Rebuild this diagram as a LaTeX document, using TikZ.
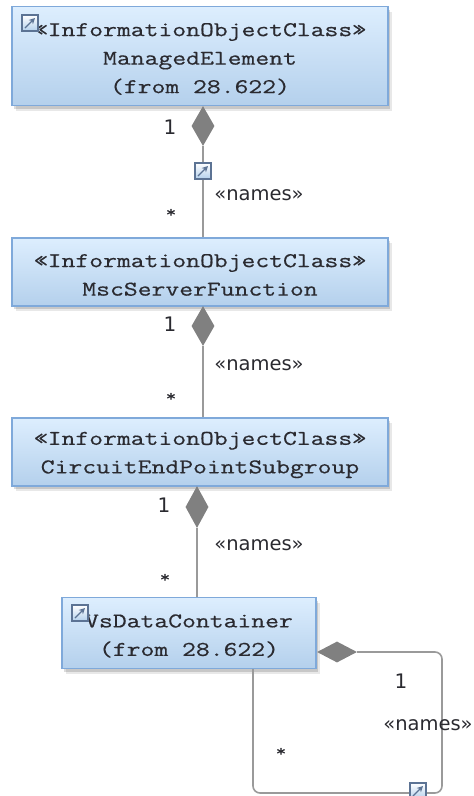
\documentclass[tikz,border=0pt]{standalone}
\usepackage{fontspec}
\setsansfont{DejaVu Sans}
\newfontfamily\classfont{Latin Modern Mono}[FakeStretch=1.28,FakeBold=0.5]
\newcommand{\topfix}{\rule{0pt}{19pt}}
\usetikzlibrary{shapes.geometric,shadows,arrows.meta}
\definecolor{boxtop}{HTML}{DDEEFE}
\definecolor{boxbot}{HTML}{B4D0EC}
\definecolor{boxline}{HTML}{7FA9DA}
\definecolor{linkgray}{HTML}{9A9A9A}
\definecolor{diagray}{HTML}{808080}
\definecolor{txtdark}{HTML}{2A2A30}
\definecolor{iconline}{HTML}{5C7394}
\tikzset{
  classbox/.style={draw=boxline,line width=1.3pt,top color=boxtop,bottom color=boxbot,
    anchor=center,inner sep=0pt,align=center,text=txtdark,
    font=\classfont\fontsize{21}{28.5}\selectfont,
    general shadow={shadow xshift=4pt,shadow yshift=-5pt,opacity=.09,fill=black},
    general shadow={shadow xshift=2pt,shadow yshift=-3pt,opacity=.14,fill=black}},
  linkicon/.style={draw=iconline,line width=1.2pt,minimum width=16pt,minimum height=16pt,inner sep=0pt,
    top color=white,bottom color=boxbot,
    path picture={\draw[iconline,line width=1.3pt,-{Stealth[length=6pt,width=6pt]}]
      ([shift={(3pt,3pt)}]path picture bounding box.south west)--([shift={(-3pt,-3pt)}]path picture bounding box.north east);}},
  compdia/.style={diamond,draw=none,fill=diagray,inner sep=0pt,aspect=1},
  link/.style={draw=linkgray,line width=1.6pt},
  mult/.style={text=txtdark,inner sep=0pt,font=\sffamily\fontsize{20}{20}\selectfont},
  star/.style={text=txtdark,inner sep=0pt,font=\classfont\fontsize{16}{16}\selectfont},
  stereo/.style={text=txtdark,inner sep=0pt,font=\sffamily\fontsize{19.5}{19.5}\selectfont}
}
\begin{document}
\begin{tikzpicture}[x=1pt,y=-1pt]
\useasboundingbox (0,0) rectangle (474,796);
\node[classbox,minimum width=376pt,minimum height=99pt] (b1) at (200,56) {\topfix«InformationObjectClass»\\ManagedElement\\(from 28.622)};
\node[classbox,minimum width=376pt,minimum height=68pt] (b2) at (200,272) {\topfix«InformationObjectClass»\\MscServerFunction};
\node[classbox,minimum width=376pt,minimum height=68pt] (b3) at (200,452) {\topfix«InformationObjectClass»\\CircuitEndPointSubgroup};
\node[classbox,minimum width=254pt,minimum height=71pt] (b4) at (189,633) {\topfix VsDataContainer\\(from 28.622)};
% diamonds
\node[compdia,minimum width=23pt,minimum height=40pt] (d1) at (203,126) {};
\node[compdia,minimum width=23pt,minimum height=40pt] (d2) at (203,326) {};
\node[compdia,minimum width=23pt,minimum height=42pt] (d3) at (197,507) {};
\node[compdia,minimum width=40pt,minimum height=21pt] (d4) at (337,652) {};
% connectors
\draw[link] (d1.south) -- (d1.south |- b2.north);
\draw[link] (d2.south) -- (d2.south |- b3.north);
\draw[link] (d3.south) -- (d3.south |- b4.north);
\coordinate (c1) at (442,652);
\coordinate (c2) at (442,793);
\coordinate (c3) at (253,793);
\draw[link,rounded corners=7pt] (d4.east) -- (c1) -- (c2) -- (c3) -- (c3 |- b4.south);
% icons
\node[linkicon] (i1) at (30,23) {};
\node[linkicon] (i2) at (203,171) {};
\node[linkicon] (i3) at (80,613) {};
\node[linkicon] (i4) at (418,791) {};
% labels
\node[mult] (m1) at (170,127) {1};
\node[star] (s1) at (171,213) {*};
\node[stereo] (n1) at (259,195) {«names»};
\node[mult] (m2) at (170,324) {1};
\node[star] (s2) at (171,397) {*};
\node[stereo] (n2) at (259,365) {«names»};
\node[mult] (m3) at (164,505) {1};
\node[star] (s3) at (165,578) {*};
\node[stereo] (n3) at (259,545) {«names»};
\node[mult] (m4) at (401,681) {1};
\node[star] (s4) at (281,752) {*};
\node[stereo] (n4) at (428,725) {«names»};
\end{tikzpicture}
\end{document}
